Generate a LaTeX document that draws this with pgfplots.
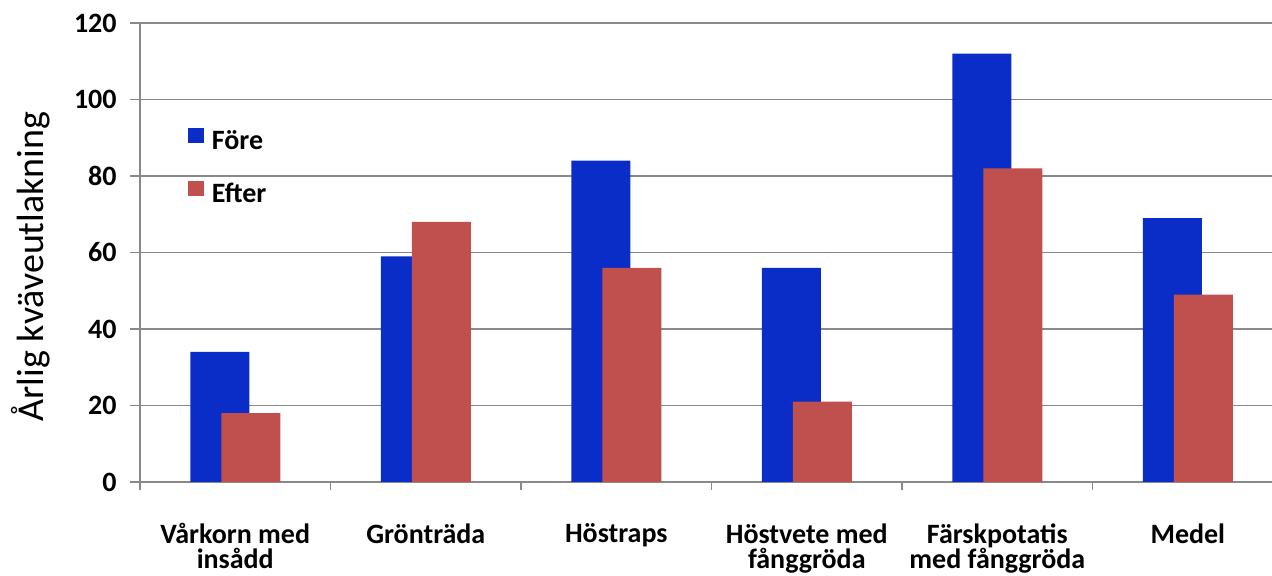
\documentclass[border=0pt]{standalone}
\usepackage{fontspec}
\setmainfont{Carlito}
\usepackage{pgfplots}
\pgfplotsset{compat=1.18}
\definecolor{fore}{RGB}{10,45,200}
\definecolor{efter}{RGB}{192,80,77}
\definecolor{gridgray}{RGB}{137,137,137}
\begin{document}
\begin{tikzpicture}
\begin{axis}[
  at={(0pt,0pt)}, anchor=south west,
  scale only axis,
  width=566pt, height=229.5pt,
  xmin=-0.5, xmax=5.442,
  ymin=0, ymax=120,
  ytick={0,20,...,120},
  xtick={0,...,5},
  xticklabels={{Vårkorn med\\insådd},{Grönträda},{Höstraps},{Höstvete med\\fånggröda},{Färskpotatis\\med fånggröda},{Medel}},
  minor xtick={-0.5,0.5,...,4.5},
  axis x line*=bottom, axis y line*=left,
  axis line style={draw=gridgray, line width=0.9pt},
  ymajorgrids,
  major grid style={draw=gridgray, line width=0.9pt},
  tick align=outside,
  major tick length=5pt,
  minor tick length=4pt,
  major x tick style={draw=none},
  minor x tick style={draw=gridgray, line width=0.9pt},
  major y tick style={draw=gridgray, line width=0.9pt},
  /pgf/number format/assume math mode=true,
  yticklabel style={font=\fontsize{14}{14}\selectfont\bfseries, inner sep=0pt, xshift=-6.5pt},
  xticklabel style={font=\fontsize{14}{12.5}\selectfont\bfseries, align=center, anchor=north, inner sep=0pt, yshift=-15.5pt},
  ylabel={Årlig kväveutlakning},
  ylabel style={font=\fontsize{19}{19}\selectfont, at={(axis description cs:-0.097,0.4695)}, anchor=center},
  legend style={draw=none, fill=none, inner sep=0pt, at={(axis description cs:0.0424,0.684)}, anchor=west,
    font=\fontsize{14}{14}\selectfont\bfseries, row sep=12.5pt, column sep=4pt,
    nodes={inner sep=0pt, text height=10pt, text depth=3pt}},
  legend cell align=left,
  legend image code/.code={\fill[#1] (0pt,-0.3pt) rectangle (7.75pt,7.45pt);},
]
\addplot[ybar, bar width=29.5pt, bar shift=-7.75pt, fill=fore, draw=none] coordinates {(0,34) (1,59) (2,84) (3,56) (4,112) (5,69)};
\addlegendentry{Före}
\addplot[ybar, bar width=29.5pt, bar shift=7.75pt, fill=efter, draw=none] coordinates {(0,18) (1,68) (2,56) (3,21) (4,82) (5,49)};
\addlegendentry{Efter}
\end{axis}
\pgfresetboundingbox
\path[use as bounding box] (-70pt,-47pt) rectangle (566pt,241pt);
\end{tikzpicture}
\end{document}
